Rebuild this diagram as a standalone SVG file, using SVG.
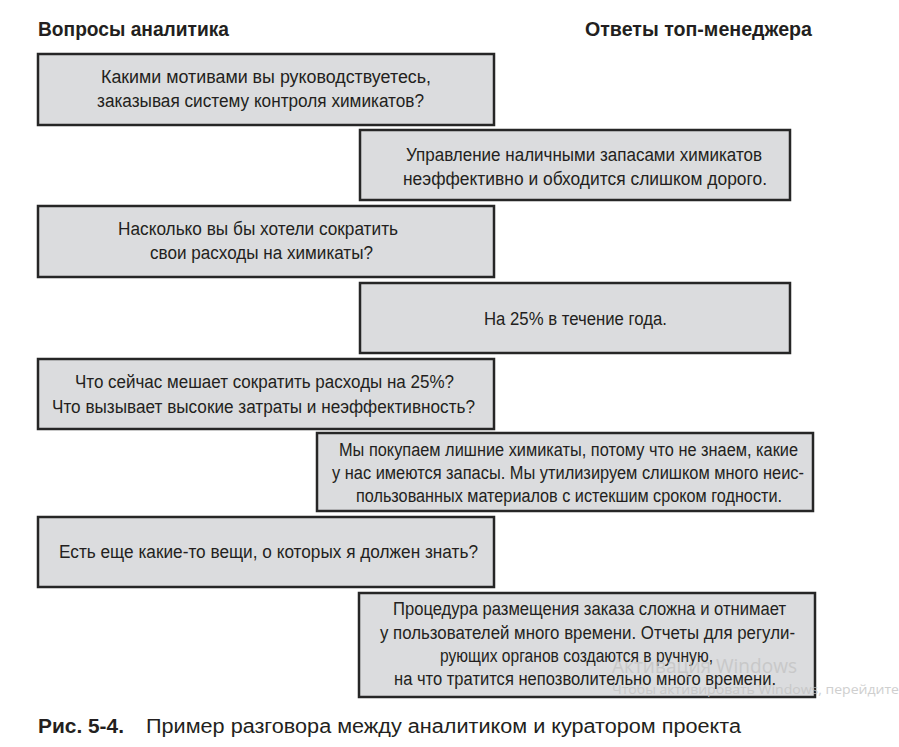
<svg xmlns="http://www.w3.org/2000/svg" width="899" height="747" viewBox="0 0 899 747">
<style>
.box{fill:#dbdcde;stroke:#262626;stroke-width:2.5}
.t{font-family:"Liberation Sans",Arial,sans-serif;font-size:18px;fill:#231f20}
.h{font-family:"Liberation Sans",Arial,sans-serif;font-size:21px;font-weight:bold;fill:#231f20}
.cb{font-family:"Liberation Sans",Arial,sans-serif;font-size:20px;font-weight:bold;fill:#231f20}
.c{font-family:"Liberation Sans",Arial,sans-serif;font-size:20px;fill:#231f20}
.wm{font-family:"Open Sans","DejaVu Sans",sans-serif;fill:#c4c4c4}
</style>
<rect width="899" height="747" fill="#ffffff"/>
<text class="h" x="38" y="36" textLength="191" lengthAdjust="spacingAndGlyphs">Вопросы аналитика</text>
<text class="h" x="585" y="36" textLength="227" lengthAdjust="spacingAndGlyphs">Ответы топ-менеджера</text>
<g id="connectors"></g>
<g id="q1">
<rect class="box" x="38" y="54" width="456" height="71"/>
<text class="t" x="101" y="83" textLength="330" lengthAdjust="spacingAndGlyphs">Какими мотивами вы руководствуетесь,</text>
<text class="t" x="97" y="107" textLength="327" lengthAdjust="spacingAndGlyphs">заказывая систему контроля химикатов?</text>
</g>
<g id="a1">
<rect class="box" x="360" y="130" width="430" height="70"/>
<text class="t" x="406" y="161" textLength="356" lengthAdjust="spacingAndGlyphs">Управление наличными запасами химикатов</text>
<text class="t" x="403" y="185" textLength="364" lengthAdjust="spacingAndGlyphs">неэффективно и обходится слишком дорого.</text>
</g>
<g id="q2">
<rect class="box" x="38" y="206" width="456" height="71"/>
<text class="t" x="118" y="235" textLength="280" lengthAdjust="spacingAndGlyphs">Насколько вы бы хотели сократить</text>
<text class="t" x="150" y="259" textLength="223" lengthAdjust="spacingAndGlyphs">свои расходы на химикаты?</text>
</g>
<g id="a2">
<rect class="box" x="360" y="283" width="430" height="70"/>
<text class="t" x="484" y="325" textLength="183" lengthAdjust="spacingAndGlyphs">На 25% в течение года.</text>
</g>
<g id="q3">
<rect class="box" x="38" y="359" width="456" height="70"/>
<text class="t" x="75" y="388" textLength="379" lengthAdjust="spacingAndGlyphs">Что сейчас мешает сократить расходы на 25%?</text>
<text class="t" x="52" y="413" textLength="423" lengthAdjust="spacingAndGlyphs">Что вызывает высокие затраты и неэффективность?</text>
</g>
<g id="a3">
<rect class="box" x="317" y="433" width="496" height="78"/>
<text class="t" x="339" y="456" textLength="459" lengthAdjust="spacingAndGlyphs">Мы покупаем лишние химикаты, потому что не знаем, какие</text>
<text class="t" x="332" y="479" textLength="472" lengthAdjust="spacingAndGlyphs">у нас имеются запасы. Мы утилизируем слишком много неис-</text>
<text class="t" x="356" y="502" textLength="426" lengthAdjust="spacingAndGlyphs">пользованных материалов с истекшим сроком годности.</text>
</g>
<g id="q4">
<rect class="box" x="38" y="517" width="456" height="70"/>
<text class="t" x="59" y="558" textLength="419" lengthAdjust="spacingAndGlyphs">Есть еще какие-то вещи, о которых я должен знать?</text>
</g>
<g id="a4">
<rect class="box" x="359" y="593" width="456" height="104"/>
<text class="t" x="393" y="615" textLength="393" lengthAdjust="spacingAndGlyphs">Процедура размещения заказа сложна и отнимает</text>
<text class="t" x="380" y="639" textLength="415" lengthAdjust="spacingAndGlyphs">у пользователей много времени. Отчеты для регули-</text>
<text class="t" x="440" y="662" textLength="273" lengthAdjust="spacingAndGlyphs">рующих органов создаются в ручную,</text>
<text class="t" x="394" y="685" textLength="382" lengthAdjust="spacingAndGlyphs">на что тратится непозволительно много времени.</text>
</g>
<g id="caption">
<text class="cb" x="38" y="733" textLength="86" lengthAdjust="spacingAndGlyphs">Рис. 5-4.</text>
<text class="c" x="146" y="733" textLength="595" lengthAdjust="spacingAndGlyphs">Пример разговора между аналитиком и куратором проекта</text>
</g>
<g id="watermark" opacity="0.8">
<text class="wm" x="612" y="673" font-size="20" textLength="185" lengthAdjust="spacingAndGlyphs">Активация Windows</text>
<text class="wm" x="612" y="694" font-size="13" textLength="287" lengthAdjust="spacingAndGlyphs">Чтобы активировать Windows, перейдите</text>
</g>
</svg>
